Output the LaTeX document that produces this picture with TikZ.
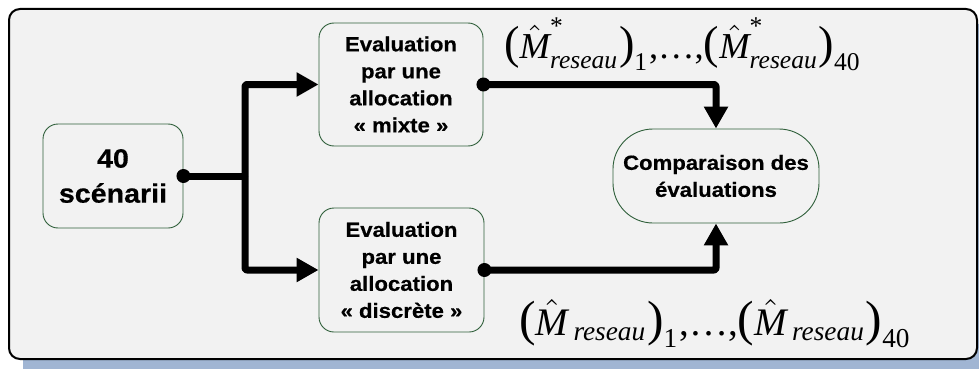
\documentclass[tikz,border=0pt]{standalone}
\usepackage{amsmath}
\usepackage{graphicx}
\usepackage{fontspec}
\setmainfont{Liberation Sans}
\newfontfamily\tms{Liberation Serif}
\newfontfamily\boxfont[FakeStretch=1.08,FakeBold=0.5]{Liberation Sans}
\usetikzlibrary{arrows.meta}
\definecolor{bg}{HTML}{F2F2F2}
\definecolor{shadowblue}{HTML}{A0B5D3}
\definecolor{boxgreen}{HTML}{2F5F3A}
\newcommand{\hM}{\hat{\text{\tms\itshape M}}}
\newcommand{\rsx}{\text{\tms\itshape reseau}}
\newcommand{\tx}[1]{\text{\tms #1}}
\newcommand{\bp}[1]{\text{\tms\fontsize{12.7}{12.7}\selectfont #1}}
\begin{document}
\begin{tikzpicture}[x=1pt,y=-1pt,
  stepbox/.style={draw=boxgreen, line width=0.9pt, fill=bg, rounded corners=15pt,
    align=center, inner sep=0pt,
    font=\boxfont\bfseries\fontsize{20.5}{27}\selectfont},
  conn/.style={line width=7pt, line join=round, rounded corners=2pt,
    -{Triangle[length=22pt,width=23pt]}},
  plain/.style={line width=7pt, line join=round},
  dot/.style={fill=black},
  lab/.style={inner sep=0pt, anchor=base west}
]
\useasboundingbox (0,0) rectangle (979,369);
\clip (0,0) rectangle (979,369);
% background frame with shadow
\fill[shadowblue, rounded corners=10pt] (23,24) rectangle (995,380);
\draw[line width=2pt, fill=bg, rounded corners=11pt] (9,9) rectangle (977,359);

% nodes
\node[stepbox, minimum width=140pt, minimum height=104pt,
  font=\boxfont\bfseries\fontsize{26.5}{35}\selectfont] (s40) at (113,176) {40\\scénarii};
\node[stepbox, minimum width=164pt, minimum height=123pt] (mixte) at (401,84.5)
  {Evaluation\\par une\\allocation\\« mixte »};
\node[stepbox, minimum width=165pt, minimum height=124pt] (discrete) at (401.5,270)
  {Evaluation\\par une\\allocation\\« discrète »};
\node[stepbox, minimum width=206pt, minimum height=94pt, rounded corners=40pt] (comp) at (716,176)
  {Comparaison des\\évaluations};

% connectors
\coordinate (jn) at (245,176);
\draw[plain] (s40.east) -- (jn);
\draw[conn] (jn) |- (mixte.west);
\draw[conn] (jn) |- (discrete.west);
\draw[conn] (mixte.east) -| (comp.north);
\draw[conn] (discrete.east) -| (comp.south);
\fill[dot] (s40.east) circle (7pt);
\fill[dot] (mixte.east) circle (7pt);
\fill[dot] (discrete.east) circle (7pt);

% labels
\node[lab] (ltop) at (504,59) {\scalebox{3.65}{$\bp{(}\hM^{\tx{*}}_{\rsx}\bp{)}_{\tx{1}}\tx{,\ldots,}\bp{(}\hM^{\tx{*}}_{\rsx}\bp{)}_{\tx{40}}$}};
\node[lab] (lbot) at (519,335) {\scalebox{3.9}{$\bp{(}\hM_{\,\rsx}\bp{)}_{\tx{1}}\tx{,\ldots,}\bp{(}\hM_{\,\rsx}\bp{)}_{\tx{40}}$}};
\end{tikzpicture}
\end{document}
